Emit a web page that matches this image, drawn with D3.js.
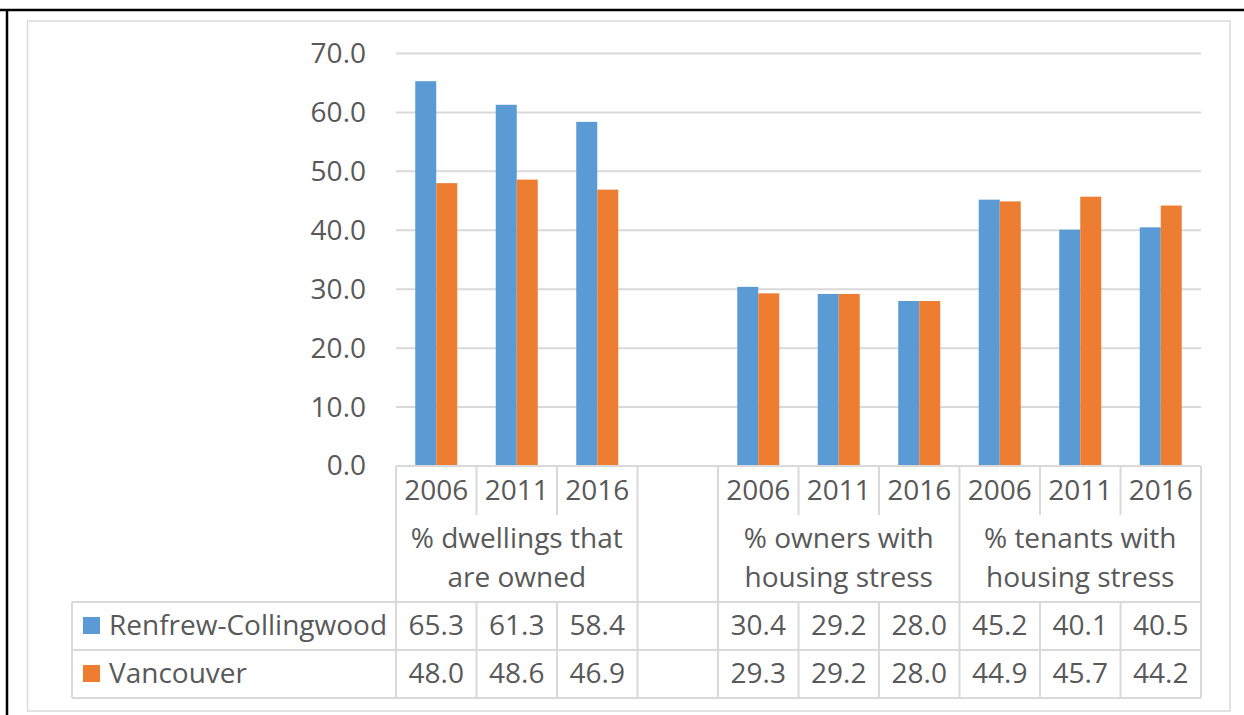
<!DOCTYPE html>
<html>
<head>
<meta charset="utf-8">
<script src="https://cdn.jsdelivr.net/npm/d3@7"></script>
<style>
    body { margin: 0; background: #fff; }
    svg { display: block; }
    text { font-family: "Open Sans", sans-serif; fill: #595959; }
</style>
</head>
<body>
<div id="chart"></div>
<script>
// data
let years = ["2006", "2011", "2016"]
let groupLabels = [
    ["% dwellings that", "are owned"],
    [],
    ["% owners with", "housing stress"],
    ["% tenants with", "housing stress"]
]
let seriesNames = ["Renfrew-Collingwood", "Vancouver"]
let seriesColors = ["#5b9bd5", "#ed7d31"]
let renfrewValues = [65.3, 61.3, 58.4, 30.4, 29.2, 28.0, 45.2, 40.1, 40.5]
let vancouverValues = [48.0, 48.6, 46.9, 29.3, 29.2, 28.0, 44.9, 45.7, 44.2]
let yTicks = [0, 10, 20, 30, 40, 50, 60, 70]

let width = 1244, height = 715
let plot = { left: 396, right: 1201, top: 53.5, bottom: 466 }
let rows = { yearBottom: 515, catBottom: 602, row1: 650, row2: 698, tableLeft: 72 }
let gridColor = "#d9d9d9"

// build the slot list: three years per group, the empty group gets one blank slot
let slots = []
let valueIdx = 0
groupLabels.forEach(function(g, gi) {
    if (g.length == 0) {
        slots.push({ key: "blank" + gi, group: gi, year: "", values: null })
    } else {
        years.forEach(function(y) {
            slots.push({
                key: gi + "-" + y, group: gi, year: y,
                values: [renfrewValues[valueIdx], vancouverValues[valueIdx]]
            })
            valueIdx++
        })
    }
})

let svg = d3.select("#chart").append("svg")
    .attr("width", width).attr("height", height)

// outer frame (black on top and left) and the chart area border
svg.append("line").attr("x1", 0).attr("x2", width).attr("y1", 10).attr("y2", 10)
    .attr("stroke", "#000").attr("stroke-width", 2.5)
svg.append("line").attr("x1", 7).attr("x2", 7).attr("y1", 9).attr("y2", height)
    .attr("stroke", "#000").attr("stroke-width", 2.5)
svg.append("rect").attr("x", 27.5).attr("y", 21).attr("width", 1230 - 27.5).attr("height", 711 - 21)
    .attr("fill", "none").attr("stroke", gridColor).attr("stroke-width", 1.5)

// scales
let xScale = d3.scaleBand().domain(slots.map(d => d.key)).range([plot.left, plot.right])
let yScale = d3.scaleLinear().domain([0, 70]).range([plot.bottom, plot.top])
let xInner = d3.scaleBand().domain(seriesNames).range([-21, 21])

// gridlines
svg.append("g").selectAll("line")
    .data(yTicks)
    .enter().append("line")
    .attr("x1", plot.left).attr("x2", plot.right)
    .attr("y1", d => yScale(d)).attr("y2", d => yScale(d))
    .attr("stroke", gridColor).attr("stroke-width", 2)

// y axis labels
let yAxis = d3.axisLeft(yScale).tickValues(yTicks).tickFormat(d3.format(".1f"))
    .tickSize(0).tickPadding(30)
let yAxisG = svg.append("g").attr("transform", `translate(${plot.left}, 0)`).call(yAxis)
yAxisG.select(".domain").remove()
yAxisG.selectAll("text").attr("font-size", 28).attr("font-family", null).attr("fill", "#595959")

// bars
let slotGroups = svg.append("g").selectAll("g")
    .data(slots.filter(d => d.values != null))
    .enter().append("g")
    .attr("transform", d => `translate(${xScale(d.key) + xScale.bandwidth() / 2}, 0)`)
slotGroups.selectAll("rect")
    .data(d => d.values.map((v, i) => ({ name: seriesNames[i], value: v, i: i })))
    .enter().append("rect")
    .attr("x", d => xInner(d.name))
    .attr("width", xInner.bandwidth())
    .attr("y", d => yScale(d.value))
    .attr("height", d => yScale(0) - yScale(d.value))
    .attr("fill", d => seriesColors[d.i])

// data table
let table = svg.append("g").attr("stroke", gridColor).attr("stroke-width", 2)
// horizontal lines
table.append("line").attr("x1", plot.left).attr("x2", plot.right)
    .attr("y1", plot.bottom).attr("y2", plot.bottom)
;[rows.catBottom, rows.row1, rows.row2].forEach(function(y) {
    table.append("line").attr("x1", rows.tableLeft).attr("x2", plot.right)
        .attr("y1", y).attr("y2", y)
})
table.append("line").attr("x1", rows.tableLeft).attr("x2", rows.tableLeft)
    .attr("y1", rows.catBottom).attr("y2", rows.row2)
// vertical lines at every slot edge
let edges = slots.map(d => xScale(d.key)).concat([plot.right])
edges.forEach(function(x, i) {
    let groupEdge = i == 0 || i == edges.length - 1 || slots[i].group != slots[i - 1].group
    // year separators stop at the year row, group edges run down the whole table
    if (groupEdge) {
        table.append("line").attr("x1", x).attr("x2", x).attr("y1", plot.bottom).attr("y2", rows.row2)
    } else {
        table.append("line").attr("x1", x).attr("x2", x).attr("y1", plot.bottom).attr("y2", rows.yearBottom)
        table.append("line").attr("x1", x).attr("x2", x).attr("y1", rows.catBottom).attr("y2", rows.row2)
    }
})

// year labels
svg.append("g").selectAll("text")
    .data(slots)
    .enter().append("text")
    .attr("x", d => xScale(d.key) + xScale.bandwidth() / 2)
    .attr("y", 500)
    .attr("text-anchor", "middle")
    .attr("font-size", 28)
    .text(d => d.year)

// group labels, two lines each
groupLabels.forEach(function(lines, gi) {
    let groupSlots = slots.filter(d => d.group == gi)
    let x0 = xScale(groupSlots[0].key)
    let x1 = xScale(groupSlots[groupSlots.length - 1].key) + xScale.bandwidth()
    lines.forEach(function(line, li) {
        svg.append("text")
            .attr("x", (x0 + x1) / 2)
            .attr("y", 548 + li * 39)
            .attr("text-anchor", "middle")
            .attr("font-size", 28)
            .text(line)
    })
})

// legend rows with values
let rowBaselines = [635, 683]
seriesNames.forEach(function(name, si) {
    svg.append("rect")
        .attr("x", 83).attr("y", rowBaselines[si] - 18)
        .attr("width", 17).attr("height", 17)
        .attr("fill", seriesColors[si])
    svg.append("text")
        .attr("x", 109).attr("y", rowBaselines[si])
        .attr("font-size", 28)
        .text(name)
    svg.append("g").selectAll("text")
        .data(slots.filter(d => d.values != null))
        .enter().append("text")
        .attr("x", d => xScale(d.key) + xScale.bandwidth() / 2)
        .attr("y", rowBaselines[si])
        .attr("text-anchor", "middle")
        .attr("font-size", 28)
        .text(d => d3.format(".1f")(d.values[si]))
})
</script>
</body>
</html>
